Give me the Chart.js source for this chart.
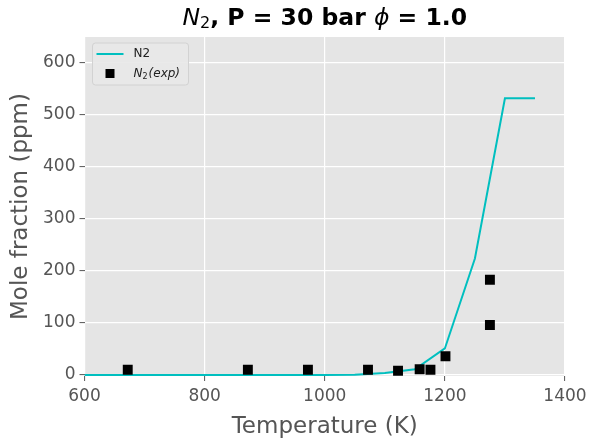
<!DOCTYPE html>
<html>
<head>
<meta charset="utf-8">
<script src="https://cdn.jsdelivr.net/npm/chart.js@4/dist/chart.umd.min.js"></script>
<style>
  html, body { margin: 0; padding: 0; background: #ffffff; }
  #wrap { width: 589px; height: 438px; }
</style>
</head>
<body>
<div id="wrap"><canvas id="c" width="589" height="438"></canvas></div>
<script>
// Model prediction: N2 mole fraction (ppm) vs temperature (K)
const modelT   = [600, 650, 700, 750, 800, 850, 900, 950, 1000, 1050, 1100, 1150, 1200, 1250, 1300, 1350];
const modelN2  = [0, 0, 0, 0, 0, 0, 0, 0, 0, 0.5, 4, 11, 51, 224, 532, 532];

// Measured N2 mole fraction (ppm)
const expT     = [672, 872, 972, 1072, 1122, 1158, 1176, 1201, 1275, 1275];
const expN2    = [10, 10, 10, 10, 8, 11, 10, 36, 96, 183];

// Axis ticks
const xTicks = [600, 800, 1000, 1200, 1400];
const yTicks = [0, 100, 200, 300, 400, 500, 600];

const FONT = "'DejaVu Sans', sans-serif";
const GREY_TXT = '#555555';
const PANEL = '#E5E5E5';
const LINE_C = '#00BFBF';

const panelBg = {
  id: 'panelBg',
  beforeDraw(chart) {
    const { ctx, chartArea: a } = chart;
    ctx.save();
    ctx.fillStyle = PANEL;
    ctx.fillRect(a.left, a.top, a.right - a.left, a.bottom - a.top);
    ctx.restore();
  }
};

// Title, axis titles and the in-panel legend
const decorations = {
  id: 'decorations',
  afterDraw(chart) {
    const { ctx, chartArea: a } = chart;
    ctx.save();

    // Title: N₂, P = 30 bar ϕ = 1.0 (mathtext-style italics)
    const parts = [
      { t: 'N', f: `italic 23.5px ${FONT}`, dy: 0 },
      { t: '2', f: `16px ${FONT}`, dy: 5 },
      { t: ', P = 30 bar ', f: `bold 23.5px ${FONT}`, dy: 0 },
      { t: 'ϕ', f: `italic 23.5px ${FONT}`, dy: 0 },
      { t: ' = 1.0', f: `bold 23.5px ${FONT}`, dy: 0 }
    ];
    let total = 0;
    parts.forEach(p => { ctx.font = p.f; p.w = ctx.measureText(p.t).width; total += p.w; });
    let x = (a.left + a.right) / 2 - total / 2;
    const ty = 19;
    ctx.fillStyle = '#000000';
    ctx.textBaseline = 'middle';
    ctx.textAlign = 'left';
    parts.forEach(p => { ctx.font = p.f; ctx.fillText(p.t, x, ty + p.dy); x += p.w; });

    // Axis titles
    ctx.fillStyle = GREY_TXT;
    ctx.font = `23px ${FONT}`;
    ctx.textAlign = 'center';
    ctx.fillText('Temperature (K)', (a.left + a.right) / 2, 427);
    ctx.save();
    ctx.translate(21, (a.top + a.bottom) / 2);
    ctx.rotate(-Math.PI / 2);
    ctx.fillText('Mole fraction (ppm)', 0, 0);
    ctx.restore();

    // Legend box
    const lx = a.left + 8, ly = a.top + 6, lw = 96, lh = 42;
    ctx.beginPath();
    if (ctx.roundRect) ctx.roundRect(lx, ly, lw, lh, 3); else ctx.rect(lx, ly, lw, lh);
    ctx.fillStyle = 'rgba(232,232,232,0.9)';
    ctx.fill();
    ctx.strokeStyle = '#D2D2D2';
    ctx.lineWidth = 1;
    ctx.stroke();

    ctx.strokeStyle = LINE_C;
    ctx.lineWidth = 2;
    ctx.beginPath();
    ctx.moveTo(lx + 4, ly + 11);
    ctx.lineTo(lx + 31, ly + 11);
    ctx.stroke();
    ctx.fillStyle = '#000000';
    ctx.fillRect(lx + 13, ly + 26, 9, 9);

    ctx.fillStyle = '#222222';
    ctx.textAlign = 'left';
    ctx.font = `12px ${FONT}`;
    ctx.fillText('N2', lx + 41, ly + 11);
    ctx.font = `italic 12px ${FONT}`;
    ctx.fillText('N', lx + 41, ly + 31);
    let nw = ctx.measureText('N').width;
    ctx.font = `8px ${FONT}`;
    ctx.fillText('2', lx + 41 + nw, ly + 34);
    let sw = ctx.measureText('2').width;
    ctx.font = `italic 12px ${FONT}`;
    ctx.fillText('(exp)', lx + 41 + nw + sw + 1, ly + 31);

    ctx.restore();
  }
};

const lineData = modelT.map((t, i) => ({ x: t, y: modelN2[i] }));
const expData = expT.map((t, i) => ({ x: t, y: expN2[i] }));

new Chart(document.getElementById('c'), {
  type: 'scatter',
  data: {
    datasets: [
      {
        label: 'N2(exp)',
        data: expData,
        pointStyle: 'rect',
        pointRadius: 7,
        pointHoverRadius: 7,
        backgroundColor: '#000000',
        borderColor: '#000000',
        borderWidth: 0,
        order: 1
      },
      {
        label: 'N2',
        data: lineData,
        showLine: true,
        borderColor: LINE_C,
        borderWidth: 2,
        pointRadius: 0,
        tension: 0,
        fill: false,
        order: 2
      }
    ]
  },
  options: {
    responsive: false,
    animation: false,
    devicePixelRatio: 1,
    layout: { padding: { top: 37, right: 24, left: 0, bottom: 0 } },
    plugins: {
      legend: { display: false },
      title: { display: false },
      tooltip: { enabled: false }
    },
    scales: {
      x: {
        type: 'linear',
        min: 600,
        max: 1400,
        afterFit(s) { s.height = 62; s.paddingRight = 0; s.paddingLeft = 0; },
        afterBuildTicks(s) { s.ticks = xTicks.map(v => ({ value: v })); },
        grid: { color: '#FFFFFF', lineWidth: 1.2, tickColor: GREY_TXT, tickLength: 5, tickWidth: 1 },
        border: { display: false },
        ticks: { color: GREY_TXT, font: { family: FONT, size: 17 }, padding: 5, maxRotation: 0,
                 callback: v => String(v) }
      },
      y: {
        type: 'linear',
        min: -2,
        max: 650,
        afterFit(s) { s.width = 84.5; s.paddingTop = 0; s.paddingBottom = 0; },
        afterBuildTicks(s) { s.ticks = yTicks.map(v => ({ value: v })); },
        grid: { color: '#FFFFFF', lineWidth: 1.2, tickColor: GREY_TXT, tickLength: 5, tickWidth: 1 },
        border: { display: false },
        ticks: { color: GREY_TXT, font: { family: FONT, size: 17 }, padding: 4,
                 callback: v => String(v) }
      }
    }
  },
  plugins: [panelBg, decorations]
});
</script>
</body>
</html>
